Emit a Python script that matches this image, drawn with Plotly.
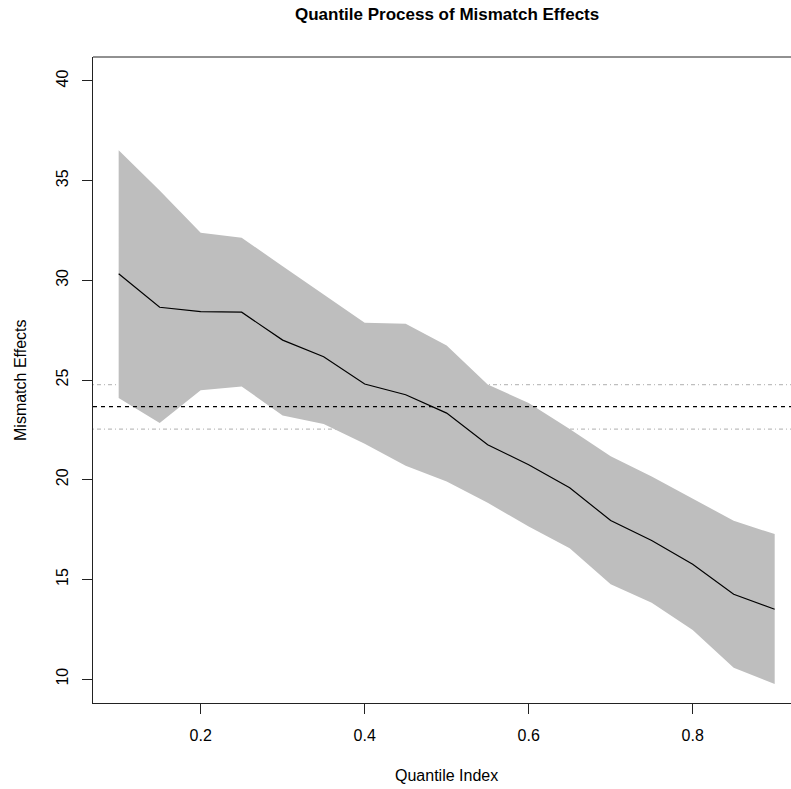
import plotly.graph_objects as go

quantiles = [0.1, 0.15, 0.2, 0.25, 0.3, 0.35, 0.4, 0.45, 0.5, 0.55, 0.6, 0.65, 0.7, 0.75, 0.8, 0.85, 0.9]
center = [30.33, 28.65, 28.43, 28.40, 27.0, 26.17, 24.8, 24.26, 23.34, 21.75, 20.75, 19.6, 17.95, 16.95, 15.76, 14.25, 13.50]
upper = [36.52, 34.5, 32.39, 32.13, 30.71, 29.29, 27.87, 27.82, 26.73, 24.77, 23.85, 22.54, 21.17, 20.16, 19.03, 17.94, 17.27]
lower = [24.10, 22.84, 24.48, 24.68, 23.22, 22.79, 21.8, 20.70, 19.91, 18.84, 17.65, 16.56, 14.76, 13.83, 12.46, 10.57, 9.75]
mean_effect = 23.66
mean_ci = [24.77, 22.54]
x_ticks = [0.2, 0.4, 0.6, 0.8]
y_ticks = [10, 15, 20, 25, 30, 35, 40]

FONT = "Liberation Sans, Arial, Helvetica, sans-serif"

fig = go.Figure()

fig.add_trace(go.Scatter(
    x=quantiles + quantiles[::-1],
    y=upper + lower[::-1],
    fill="toself", fillcolor="#BEBEBE",
    line=dict(width=0), mode="lines", hoverinfo="skip", showlegend=False))

fig.add_trace(go.Scatter(
    x=quantiles, y=center, mode="lines",
    line=dict(color="black", width=1.2), showlegend=False))

shapes = []
for v in mean_ci:
    shapes.append(dict(type="line", xref="paper", x0=0, x1=1, yref="y", y0=v, y1=v,
                       line=dict(color="#BEBEBE", width=1.2, dash="1px,3px,4px,3px"),
                       layer="below"))
shapes.append(dict(type="line", xref="paper", x0=0, x1=1, yref="y", y0=mean_effect, y1=mean_effect,
                   line=dict(color="black", width=1.2, dash="4px,4px"), layer="above"))

W, H = 791, 789
L, R, T, B = 93, 0, 57, 86

fig.update_layout(
    width=W, height=H,
    margin=dict(l=L, r=R, t=T, b=B, pad=0),
    plot_bgcolor="white", paper_bgcolor="white",
    font=dict(family=FONT, size=16, color="black"),
    shapes=shapes,
    xaxis=dict(range=[0.0687, 0.9199], tickvals=x_ticks, ticktext=[str(t) for t in x_ticks],
               showgrid=False, zeroline=False, showline=True, linecolor="#222", linewidth=1,
               mirror=False, ticks="outside", ticklen=10, tickcolor="#222",
               tickfont=dict(size=16), ticklabelstandoff=8),
    yaxis=dict(range=[8.8, 41.2], tickvals=y_ticks, ticktext=[str(t) for t in y_ticks],
               showgrid=False, zeroline=False, showline=True, linecolor="#222", linewidth=1,
               ticks="outside", ticklen=10, tickcolor="#222", tickangle=-90,
               tickfont=dict(size=16), ticklabelstandoff=8),
    annotations=[
        dict(text="<b>Quantile Process of Mismatch Effects</b>", xref="paper", yref="paper",
             x=(446.7 - L) / (W - L - R), y=1 + (57 - 15) / (H - T - B),
             xanchor="center", yanchor="middle", showarrow=False, font=dict(size=17)),
        dict(text="Quantile Index", xref="paper", yref="paper",
             x=(446.7 - L) / (W - L - R), y=-(775 - (H - B)) / (H - T - B),
             xanchor="center", yanchor="middle", showarrow=False, font=dict(size=16)),
        dict(text="Mismatch Effects", xref="paper", yref="paper",
             x=-(L - 20) / (W - L - R), y=0.5, textangle=-90,
             xanchor="center", yanchor="middle", showarrow=False, font=dict(size=16)),
    ],
)
# top border line of the box
fig.add_shape(type="line", xref="paper", yref="paper", x0=0, x1=1, y0=1, y1=1,
              line=dict(color="#222", width=1))

fig.write_html("out.html")
